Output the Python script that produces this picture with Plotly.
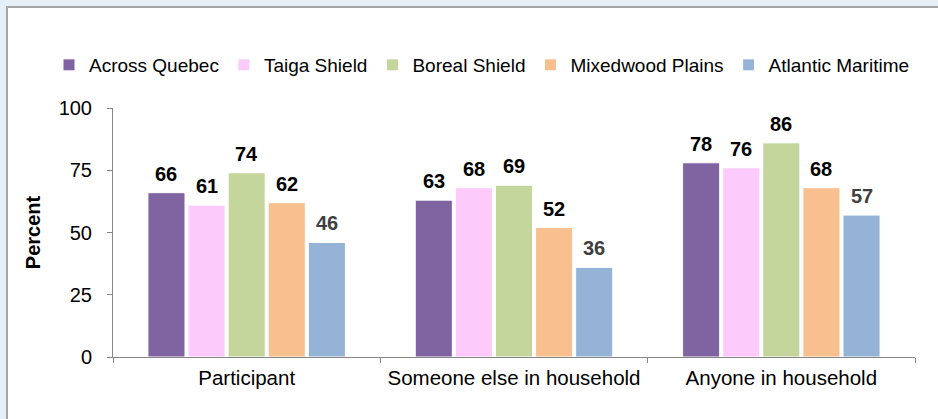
import plotly.graph_objects as go

categories = ["Participant", "Someone else in household", "Anyone in household"]
series_names = ["Across Quebec", "Taiga Shield", "Boreal Shield", "Mixedwood Plains", "Atlantic Maritime"]
across_quebec = [66, 63, 78]
taiga_shield = [61, 68, 76]
boreal_shield = [74, 69, 86]
mixedwood_plains = [62, 52, 68]
atlantic_maritime = [46, 36, 57]

series_values = [across_quebec, taiga_shield, boreal_shield, mixedwood_plains, atlantic_maritime]
colors = ["#8064A2", "#FCCBFC", "#C4D69B", "#F9C08F", "#95B3D7"]
label_colors = ["#000000", "#000000", "#000000", "#000000", "#404040"]

FONT = "Liberation Sans, Arial, sans-serif"
W, H = 938, 419
ML, MR, MT, MB = 113, 23, 108, 62
pw, ph = W - ML - MR, H - MT - MB

BARGAP = 0.25
BARGROUPGAP = 0.075
n = len(series_names)
slot = (1 - BARGAP) / n

fig = go.Figure()
for name, vals, col in zip(series_names, series_values, colors):
    fig.add_trace(go.Bar(
        name=name, x=categories, y=vals,
        marker=dict(color=col, line=dict(color="white", width=1)),
    ))

# value labels above each bar
annotations = []
for k, (vals, lc) in enumerate(zip(series_values, label_colors)):
    for i, v in enumerate(vals):
        annotations.append(dict(
            x=i + (k - (n - 1) / 2) * slot, y=v, xref="x", yref="y",
            text=f"<b>{v}</b>", showarrow=False, yanchor="bottom", yshift=6,
            font=dict(size=20, color=lc, family=FONT),
        ))

def px_x(p):
    return (p - ML) / pw

def px_y(p):
    return (H - MB - p) / ph

fig.update_layout(
    width=W, height=H,
    margin=dict(l=ML, r=MR, t=MT, b=MB),
    paper_bgcolor="#E6EEF6",
    plot_bgcolor="rgba(0,0,0,0)",
    barmode="group", bargap=BARGAP, bargroupgap=BARGROUPGAP,
    font=dict(family=FONT, size=20, color="#000000"),
    annotations=annotations,
    shapes=[dict(
        type="rect", xref="paper", yref="paper", layer="below",
        x0=px_x(7), x1=px_x(W + 10), y0=px_y(H + 10), y1=px_y(7),
        fillcolor="white", line=dict(color="#A6A6A6", width=2),
    )],
    legend=dict(
        orientation="h", x=px_x(49), y=px_y(46), xanchor="left", yanchor="top",
        font=dict(size=19), bgcolor="rgba(0,0,0,0)", traceorder="normal",
        itemwidth=30,
    ),
    xaxis=dict(
        type="category", showline=True, linecolor="#868686", linewidth=1,
        ticks="outside", ticklen=5, tickcolor="#868686", tickson="boundaries",
        showgrid=False, tickfont=dict(size=20.5), ticklabelstandoff=2,
        tickangle=0, automargin=False,
    ),
    yaxis=dict(
        range=[0, 100], dtick=25, tick0=0, showline=True, linecolor="#868686",
        linewidth=1, ticks="outside", ticklen=5, tickcolor="#868686",
        showgrid=False, zeroline=False, tickfont=dict(size=20),
        ticklabelstandoff=11, automargin=False,
        title=dict(text="<b>Percent</b>", font=dict(size=20), standoff=12),
    ),
)

fig.write_html("out.html")
